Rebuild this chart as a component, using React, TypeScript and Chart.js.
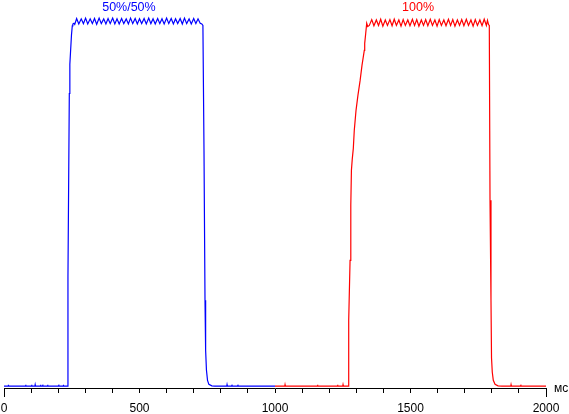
import React, { useEffect, useRef } from "react";
import { Chart, registerables } from "chart.js";

Chart.register(...registerables);

// time in ms, brightness in % of maximum
const blueTrace: [number, number][] = [
  [0, 0], [15, 0], [16, 0.4], [17, 0], [79, 0], [80, 0.4], [81, 0], [101, 0], [102, 0.4], [103, 0],
  [114, 0], [115, 0.4], [116, 0], [134, 0], [135, 0.4], [136, 0], [142, 0], [143, 0.4], [144, 0],
  [160, 0], [161, 0.4], [162, 0], [201, 0], [202, 0.4], [203, 0], [218, 0], [219, 0.4], [220, 0], [233.5, 0],
  [236, 30], [239, 60], [241, 80], [243, 88], [246, 92], [249, 96], [252, 98.5], [254, 99.0], [258, 99.2], [261, 98.9],
  [268, 100.5], [276, 99.0], [285, 100.4], [293, 99.1], [301, 100.6], [309, 99.0], [318, 100.4], [326, 99.1],
  [334, 100.5], [342, 98.9], [351, 100.6], [359, 99.1], [368, 100.4], [376, 99.0], [384, 100.5], [392, 99.1],
  [401, 100.6], [409, 99.0], [417, 100.4], [425, 99.0], [434, 100.5], [442, 99.1], [451, 100.4], [459, 99.0],
  [467, 100.6], [475, 99.1], [484, 100.5], [492, 99.0], [500, 100.4], [508, 99.1], [517, 100.5], [525, 99.0],
  [534, 100.6], [542, 99.1], [550, 100.4], [558, 99.0], [567, 100.5], [575, 99.1], [583, 100.4], [591, 99.0],
  [600, 100.6], [608, 99.1], [617, 100.5], [625, 99.0], [633, 100.4], [641, 99.1], [650, 100.5], [658, 99.0],
  [666, 100.6], [674, 99.1], [683, 100.4], [691, 99.0], [700, 100.5], [708, 99.1], [716, 100.4], [724, 99.2], [730, 99.0],
  [734, 98.6], [738, 64.5], [741.7, 23.5], [744, 9.8], [747, 4.4], [751, 1.6], [756, 0.5], [767, 0.1], [778, 0],
  [822, 0], [823, 0.4], [824, 0], [840, 0], [841, 0.4], [842, 0], [862, 0], [863, 0.4], [864, 0], [1000, 0],
];

const redTrace: [number, number][] = [
  [1000, 0], [1036, 0], [1037, 0.4], [1038, 0], [1156, 0], [1157, 0.4], [1158, 0], [1230, 0], [1231, 0.4], [1232, 0],
  [1250, 0], [1251, 0.4], [1252, 0], [1269.4, 0],
  [1271, 4.4], [1273, 18], [1277, 34.4], [1279, 37.2], [1280.4, 49.5], [1282, 59], [1285, 62], [1289, 65],
  [1292.6, 70], [1299, 75.4], [1306, 79.5], [1314, 83.5], [1321, 87.7], [1329.5, 91.8], [1331, 93.7],
  [1334.7, 96.4], [1338.4, 99.2], [1342, 98.3], [1348, 98.6],
  [1357, 100.2], [1365, 98.5], [1374, 100.1], [1382, 98.6], [1390, 100.3], [1398, 98.4], [1407, 100.1], [1415, 98.6],
  [1424, 100.2], [1432, 98.5], [1440, 100.3], [1448, 98.6], [1457, 100.1], [1465, 98.4], [1473, 100.2], [1481, 98.6],
  [1490, 100.1], [1498, 98.5], [1507, 100.3], [1515, 98.6], [1523, 100.2], [1531, 98.4], [1540, 100.1], [1548, 98.6],
  [1556, 100.2], [1564, 98.5], [1573, 100.3], [1581, 98.6], [1590, 100.1], [1598, 98.4], [1606, 100.2], [1614, 98.6],
  [1623, 100.1], [1631, 98.5], [1640, 100.3], [1648, 98.6], [1656, 100.2], [1664, 98.4], [1673, 100.1], [1681, 98.6],
  [1689, 100.2], [1697, 98.5], [1706, 100.3], [1714, 98.6], [1723, 100.1], [1731, 98.4], [1739, 100.2], [1747, 98.6],
  [1756, 100.1], [1764, 98.5], [1772, 100.3], [1780, 98.6], [1784, 100.0], [1788, 98.8],
  [1790.8, 98.6], [1793.4, 50.8], [1797, 23.5], [1799, 7.7], [1801.8, 3.8], [1805.5, 1.6], [1812, 0.5], [1823, 0.1],
  [1837.6, 0], [1870, 0], [1871, 0.4], [1872, 0], [1906, 0], [1907, 0.4], [1908, 0], [2000, 0],
];

const seriesLabels = ["50%/50%", "100%"];
const seriesLabelX = [461, 1528];
const seriesColors = ["#0000ff", "#ff0000"];
const axisUnit = "мс";
const xMin = 0;
const xMax = 2000;
const xStep = 100;
const xLabelStep = 500;

const FONT = "'Liberation Sans', Arial, sans-serif";

export default function App() {
  const ref = useRef<HTMLCanvasElement | null>(null);

  useEffect(() => {
    const canvas = ref.current;
    if (!canvas) return;

    const overlay = {
      id: "overlay",
      afterDraw(chart: any) {
        const ctx = chart.ctx;
        const xs = chart.scales.x;
        const ys = chart.scales.y;
        const area = chart.chartArea;
        ctx.save();
        ctx.font = `12.5px ${FONT}`;
        ctx.textAlign = "center";
        ctx.textBaseline = "alphabetic";
        seriesLabels.forEach((t, i) => {
          ctx.fillStyle = seriesColors[i];
          ctx.fillText(t, xs.getPixelForValue(seriesLabelX[i]), ys.getPixelForValue(102.6));
        });
        ctx.font = `12px ${FONT}`;
        ctx.fillStyle = "#000";
        ctx.textAlign = "left";
        ctx.fillText(axisUnit, area.right + 8, area.bottom + 4);
        ctx.strokeStyle = "#000";
        ctx.lineWidth = 1;
        [xMin, xMax].forEach((v) => {
          const px = Math.round(xs.getPixelForValue(v)) + 0.5;
          ctx.beginPath();
          ctx.moveTo(px, area.bottom);
          ctx.lineTo(px, area.bottom + 9);
          ctx.stroke();
        });
        ctx.restore();
      },
    };

    const chart = new Chart(canvas, {
      type: "line",
      data: {
        datasets: [
          {
            data: blueTrace.map(([x, y]) => ({ x, y })),
            borderColor: seriesColors[0],
            borderWidth: 1.2,
            pointRadius: 0,
            tension: 0,
          },
          {
            data: redTrace.map(([x, y]) => ({ x, y })),
            borderColor: seriesColors[1],
            borderWidth: 1.2,
            pointRadius: 0,
            tension: 0,
          },
        ],
      },
      options: {
        responsive: false,
        animation: false,
        events: [],
        layout: { padding: { left: 4, right: 23, top: 13, bottom: 0 } },
        plugins: { legend: { display: false }, tooltip: { enabled: false } },
        scales: {
          x: {
            type: "linear",
            min: xMin,
            max: xMax,
            afterFit: (s: any) => {
              s.height = 26;
              s.paddingLeft = 0;
              s.paddingRight = 0;
            },
            border: { display: true, color: "#000", width: 1 },
            grid: { drawOnChartArea: false, drawTicks: true, tickLength: 5, color: "#000" },
            ticks: {
              stepSize: xStep,
              autoSkip: false,
              maxRotation: 0,
              padding: 8,
              color: "#000",
              font: { family: FONT, size: 12 },
              callback: (v: any) => (Number(v) % xLabelStep === 0 ? String(v) : ""),
            },
          },
          y: {
            type: "linear",
            display: false,
            min: -0.5,
            max: 102,
          },
        },
      },
      plugins: [overlay],
    } as any);

    return () => chart.destroy();
  }, []);

  return (
    <div style={{ position: "fixed", left: 0, top: 0, width: 569, height: 414, background: "#fff" }}>
      <canvas ref={ref} width={569} height={414} style={{ display: "block", width: 569, height: 414 }} />
    </div>
  );
}
